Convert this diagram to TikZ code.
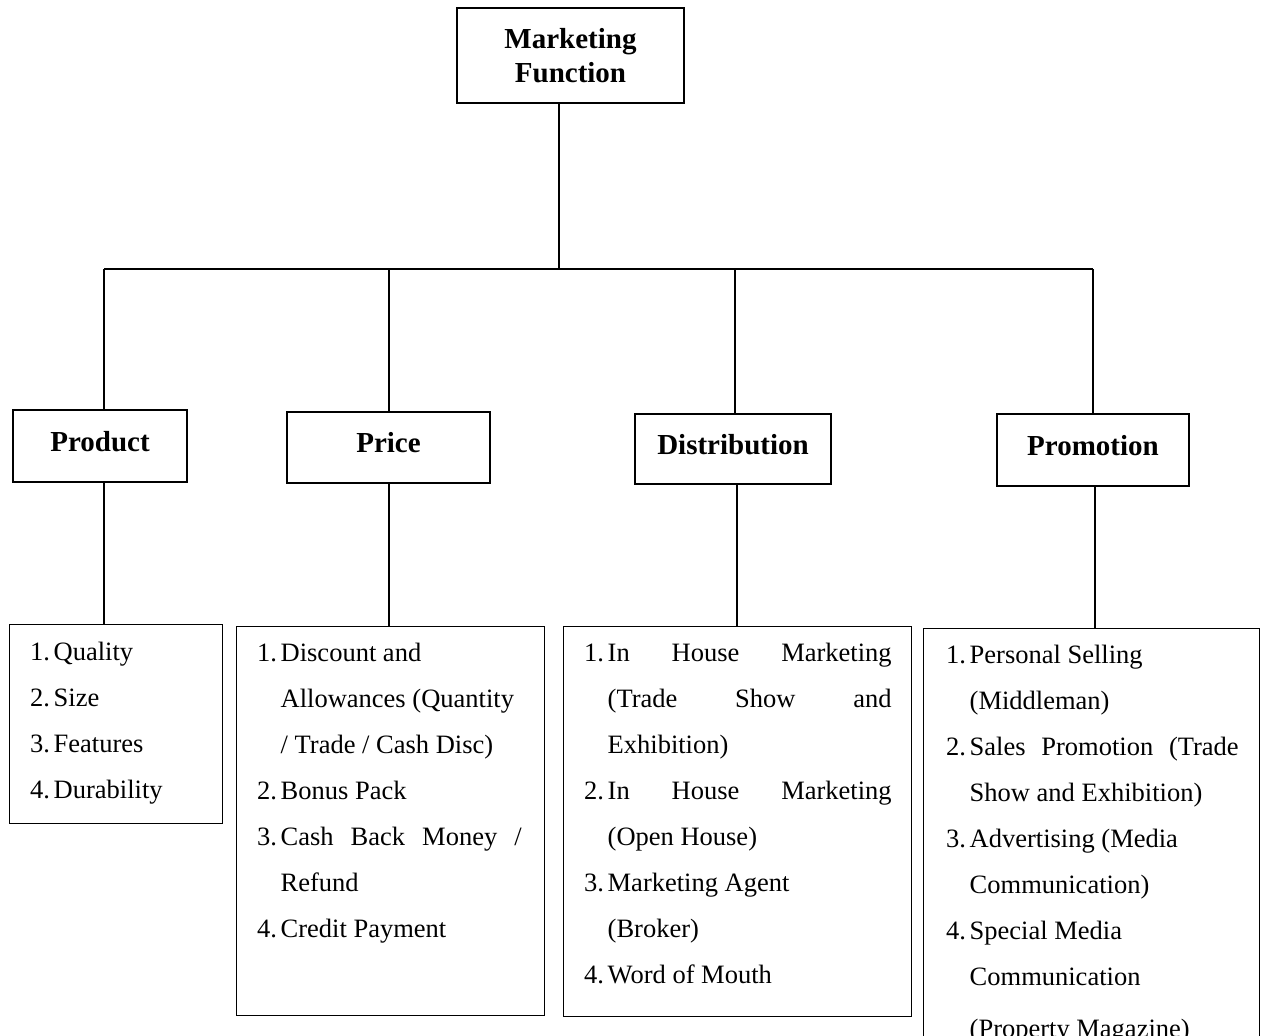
\documentclass[tikz,border=0pt]{standalone}
\usepackage{fontspec}
\setmainfont{Liberation Serif}
\newcommand{\itm}[2]{\hbox{\makebox[23.5pt][l]{#1}#2}}
\newcommand{\cnt}[1]{\hbox{\hspace*{23.5pt}#1}}
\newcommand{\jst}[3]{\hbox{\makebox[23.5pt][l]{#1}\makebox[#2][s]{#3}}}
\newcommand{\jcnt}[2]{\hbox{\hspace*{23.5pt}\makebox[#1][s]{#2}}}
\tikzset{
  head/.style={draw, line width=1.4pt, inner sep=0pt, font=\fontsize{29}{34}\selectfont\bfseries, align=center},
  listbox/.style={draw, line width=1.4pt, anchor=north west, inner sep=0pt},
  listtext/.style={anchor=base west, inner sep=0pt, font=\fontsize{26.5}{46}\selectfont},
  conn/.style={line width=1.4pt}
}
\begin{document}
\begin{tikzpicture}[x=1pt,y=-1pt]
\useasboundingbox (0,0) rectangle (1267,1036);
\clip (0,0) rectangle (1267,1036);
% top
\node[head, minimum width=227pt, minimum height=95pt] (top) at (570.5,55.5) {Marketing\\Function};
\coordinate (hub) at (559,269);
\coordinate (bl) at (104,269);
\coordinate (br) at (1093,269);
% headers
\node[head, minimum width=174pt, minimum height=72pt, text depth=10pt] (prod) at (100,446) {Product};
\node[head, minimum width=203pt, minimum height=71pt, text depth=10pt] (price) at (388.5,447.5) {Price};
\node[head, minimum width=196pt, minimum height=70pt, text depth=10pt] (dist) at (733,449) {Distribution};
\node[head, minimum width=192pt, minimum height=72pt, text depth=10pt] (prom) at (1093,450) {Promotion};
% list boxes
\node[listbox, minimum width=213pt, minimum height=199pt] (lprod) at (9,624) {};
\node[listbox, minimum width=308pt, minimum height=389pt] (lprice) at (236,626) {};
\node[listbox, minimum width=348pt, minimum height=390pt] (ldist) at (563,626) {};
\node[listbox, minimum width=336pt, minimum height=440pt] (lprom) at (923,628) {};
% connectors
\draw[conn] (top.south -| hub) -- (hub);
\draw[conn] (bl) -- (br);
\draw[conn] (bl) -- (bl |- prod.north);
\draw[conn] (389,269) -- (389,269 |- price.north);
\draw[conn] (735,269) -- (735,269 |- dist.north);
\draw[conn] (br) -- (br |- prom.north);
\draw[conn] (104,0 |- prod.south) -- (104,0 |- lprod.north);
\draw[conn] (389,0 |- price.south) -- (389,0 |- lprice.north);
\draw[conn] (737,0 |- dist.south) -- (737,0 |- ldist.north);
\draw[conn] (1095,0 |- prom.south) -- (1095,0 |- lprom.north);
% list texts
\node[listtext] (tprod) at (30,660) {\vtop{\baselineskip=46pt
  \itm{1.}{Quality}
  \itm{2.}{Size}
  \itm{3.}{Features}
  \itm{4.}{Durability}}};
\node[listtext] (tprice) at (257,661) {\vtop{\baselineskip=46pt
  \itm{1.}{Discount and}
  \cnt{Allowances (Quantity}
  \cnt{/ Trade / Cash Disc)}
  \itm{2.}{Bonus Pack}
  \jst{3.}{241pt}{Cash Back Money /}
  \cnt{Refund}
  \itm{4.}{Credit Payment}}};
\node[listtext] (tdist) at (584,661) {\vtop{\baselineskip=46pt
  \jst{1.}{284pt}{In House Marketing}
  \jcnt{284pt}{(Trade Show and}
  \cnt{Exhibition)}
  \jst{2.}{284pt}{In House Marketing}
  \cnt{(Open House)}
  \itm{3.}{Marketing Agent}
  \cnt{(Broker)}
  \itm{4.}{Word of Mouth}}};
\node[listtext] (tprom) at (946,663) {\vtop{\baselineskip=46pt
  \itm{1.}{Personal Selling}
  \cnt{(Middleman)}
  \jst{2.}{269pt}{Sales Promotion (Trade}
  \cnt{Show and Exhibition)}
  \itm{3.}{Advertising (Media}
  \cnt{Communication)}
  \itm{4.}{Special Media}
  \cnt{Communication}
  \vskip 6pt
  \cnt{(Property Magazine)}}};
\end{tikzpicture}
\end{document}
